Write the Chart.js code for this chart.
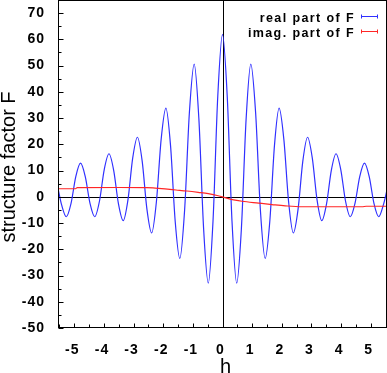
<!DOCTYPE html>
<html><head><meta charset="utf-8">
<script src="https://cdn.jsdelivr.net/npm/chart.js@4"></script>
<style>html,body{margin:0;padding:0;background:#fff;overflow:hidden}</style>
</head><body>
<canvas id="c" width="387" height="373"></canvas>
<script>
// ---- data ----
const seriesLabels = ['real part of F', 'imag. part of F'];
const axisTitles = { x: 'h', y: 'structure factor F' };

// real part of F (blue)
const realH = [-5.55, -5.43, -5.27, -5.11, -4.95, -4.79, -4.63, -4.47, -4.31, -4.15, -3.99, -3.83,
  -3.67, -3.51, -3.35, -3.19, -3.03, -2.87, -2.71, -2.55, -2.39, -2.23, -2.07, -1.91,
  -1.753, -1.597, -1.44, -1.278, -1.117, -0.955, -0.797, -0.638, -0.48, -0.32, -0.16, 0,
  0.16, 0.32, 0.48, 0.638, 0.797, 0.955, 1.117, 1.278, 1.44, 1.597, 1.753, 1.91,
  2.07, 2.23, 2.39, 2.55, 2.71, 2.87, 3.03, 3.19, 3.35, 3.51, 3.67, 3.83,
  3.99, 4.15, 4.31, 4.47, 4.63, 4.79, 4.95, 5.11, 5.27, 5.43, 5.55];
const realF = [3.2, -3.0, -7.6, -2.5, 7.7, 12.8, 7.7, -2.5, -7.6, -1.6, 10.4, 16.4,
  10.0, -2.7, -9.1, -1.15, 14.75, 22.7, 13.6, -4.7, -13.8, -1.9, 21.9, 33.8,
  19.5, -9.2, -23.5, -5.0, 32.1, 50.6, 29.7, -12.0, -32.9, -9.2, 38.2, 61.9,
  38.2, -9.2, -32.9, -12.0, 29.7, 50.6, 32.1, -5.0, -23.5, -9.2, 19.5, 33.8,
  21.9, -1.9, -13.8, -4.7, 13.6, 22.7, 14.75, -1.15, -9.1, -2.7, 10.0, 16.4,
  10.4, -1.6, -7.6, -2.5, 7.7, 12.8, 7.7, -2.5, -7.6, -3.0, 2.6];

// imaginary part of F (red)
const imagH = [-5.55, -4.96, -4.90, -3.5, -2.55, -2.27, -1.94, -1.57, -1.2, -0.82, -0.48, -0.18, 0,
  0.26, 0.66, 1.22, 1.67, 2.12, 2.68, 4.71, 4.85, 5.55];
const imagF = [3.06, 3.06, 3.5, 3.55, 3.5, 3.3, 3.0, 2.6, 2.2, 1.7, 1.2, 0.5, 0.0,
  -0.9, -1.7, -2.4, -2.95, -3.45, -3.8, -3.8, -3.6, -3.6];

const xRange = [-5.55, 5.55];
const yRange = [-50, 75];
const xTicks = [-5, -4, -3, -2, -1, 0, 1, 2, 3, 4, 5];
const xMinorTicks = [-5.5, -4.5, -3.5, -2.5, -1.5, -0.5, 0.5, 1.5, 2.5, 3.5, 4.5, 5.5];
const yTicks = [-50, -40, -30, -20, -10, 0, 10, 20, 30, 40, 50, 60, 70];
const yMinorTicks = [-45, -35, -25, -15, -5, 5, 15, 25, 35, 45, 55, 65];

const BLUE = '#3030ff', RED = '#ff2626';

const gnuFrame = {
  id: 'gnuFrame',
  beforeDraw(chart) {
    chart.ctx.letterSpacing = '1px';
  },
  beforeDatasetsDraw(chart) {
    const { ctx, chartArea: a, scales: { x, y } } = chart;
    ctx.save();
    ctx.strokeStyle = '#000';
    ctx.lineWidth = 1;
    const y0 = Math.round(y.getPixelForValue(0)) + 0.5;
    const x0 = Math.round(x.getPixelForValue(0)) + 0.5;
    ctx.beginPath();
    ctx.moveTo(a.left, y0); ctx.lineTo(a.right, y0);
    ctx.moveTo(x0, a.top); ctx.lineTo(x0, a.bottom);
    ctx.stroke();
    ctx.restore();
  },
  afterDatasetsDraw(chart) {
    const { ctx, chartArea: a, scales: { x, y } } = chart;
    ctx.save();
    ctx.strokeStyle = '#000';
    ctx.lineWidth = 1;
    const L = a.left + 0.5, R = a.right - 0.5, T = a.top + 0.5, B = a.bottom - 0.5;
    ctx.strokeRect(L, T, R - L, B - T);
    ctx.beginPath();
    yTicks.forEach(v => { const p = Math.round(y.getPixelForValue(v)) + 0.5; ctx.moveTo(L, p); ctx.lineTo(L + 5, p); });
    yMinorTicks.forEach(v => { const p = Math.round(y.getPixelForValue(v)) + 0.5; ctx.moveTo(L, p); ctx.lineTo(L + 3, p); });
    xTicks.forEach(v => { const p = Math.round(x.getPixelForValue(v)) + 0.5; ctx.moveTo(p, B); ctx.lineTo(p, B - 4); });
    xMinorTicks.forEach(v => { const p = Math.round(x.getPixelForValue(v)) + 0.5; ctx.moveTo(p, B); ctx.lineTo(p, B - 3); });
    ctx.stroke();

    // axis titles
    ctx.letterSpacing = '0px';
    ctx.fillStyle = '#000';
    ctx.font = '20px "Liberation Sans", Arial, sans-serif';
    ctx.textAlign = 'center';
    ctx.textBaseline = 'alphabetic';
    ctx.fillText(axisTitles.x, (a.left + a.right) / 2 + 3, 372.5);
    ctx.save();
    ctx.translate(15, (a.top + a.bottom) / 2 + 3);
    ctx.rotate(-Math.PI / 2);
    ctx.fillText(axisTitles.y, 0, 0);
    ctx.restore();

    // legend (gnuplot style, top right)
    ctx.font = 'bold 12.5px "Liberation Sans", Arial, sans-serif';
    ctx.letterSpacing = '1.4px';
    ctx.textAlign = 'right';
    ctx.textBaseline = 'alphabetic';
    const colors = [BLUE, RED];
    const rows = [21.7, 37.2];
    seriesLabels.forEach((lab, i) => {
      ctx.fillStyle = '#000';
      ctx.fillText(lab, 355, rows[i]);
      const ly = Math.round(rows[i] - 6) + 0.5;
      ctx.strokeStyle = colors[i];
      ctx.lineWidth = 1;
      ctx.beginPath();
      ctx.moveTo(361, ly); ctx.lineTo(378, ly);
      ctx.moveTo(361.5, ly - 2); ctx.lineTo(361.5, ly + 2);
      ctx.moveTo(377.5, ly - 2); ctx.lineTo(377.5, ly + 2);
      ctx.stroke();
    });
    ctx.restore();
  }
};

const tickFont = { family: '"Liberation Sans", Arial, sans-serif', size: 14, weight: 'bold' };

new Chart(document.getElementById('c'), {
  type: 'scatter',
  data: {
    datasets: [
      {
        label: seriesLabels[0],
        data: realH.map((h, i) => ({ x: h, y: realF[i] })),
        showLine: true, borderColor: BLUE, backgroundColor: BLUE, borderWidth: 1.2,
        pointRadius: 0, pointHoverRadius: 0, cubicInterpolationMode: 'monotone', order: 2
      },
      {
        label: seriesLabels[1],
        data: imagH.map((h, i) => ({ x: h, y: imagF[i] })),
        showLine: true, borderColor: RED, backgroundColor: RED, borderWidth: 1.2,
        pointRadius: 0, pointHoverRadius: 0, cubicInterpolationMode: 'monotone', order: 1
      }
    ]
  },
  options: {
    responsive: false,
    animation: false,
    devicePixelRatio: 1,
    layout: { padding: { left: 0, right: 0, top: 0, bottom: 0 } },
    plugins: { legend: { display: false }, tooltip: { enabled: false } },
    scales: {
      x: {
        type: 'linear', min: xRange[0], max: xRange[1],
        afterBuildTicks: s => { s.ticks = xTicks.map(v => ({ value: v })); },
        afterFit: s => { s.height = 45; s.paddingLeft = 0; s.paddingRight = 0; },
        grid: { display: false }, border: { display: false },
        ticks: { color: '#000', font: tickFont, padding: 6, maxRotation: 0, autoSkip: false, labelOffset: -2 }
      },
      y: {
        type: 'linear', min: yRange[0], max: yRange[1],
        afterBuildTicks: s => { s.ticks = yTicks.map(v => ({ value: v })); },
        afterFit: s => { s.width = 58; s.paddingTop = 0; s.paddingBottom = 0; },
        grid: { display: false }, border: { display: false },
        ticks: { color: '#000', font: tickFont, padding: 5, autoSkip: false }
      }
    }
  },
  plugins: [gnuFrame]
});
</script>
</body></html>
